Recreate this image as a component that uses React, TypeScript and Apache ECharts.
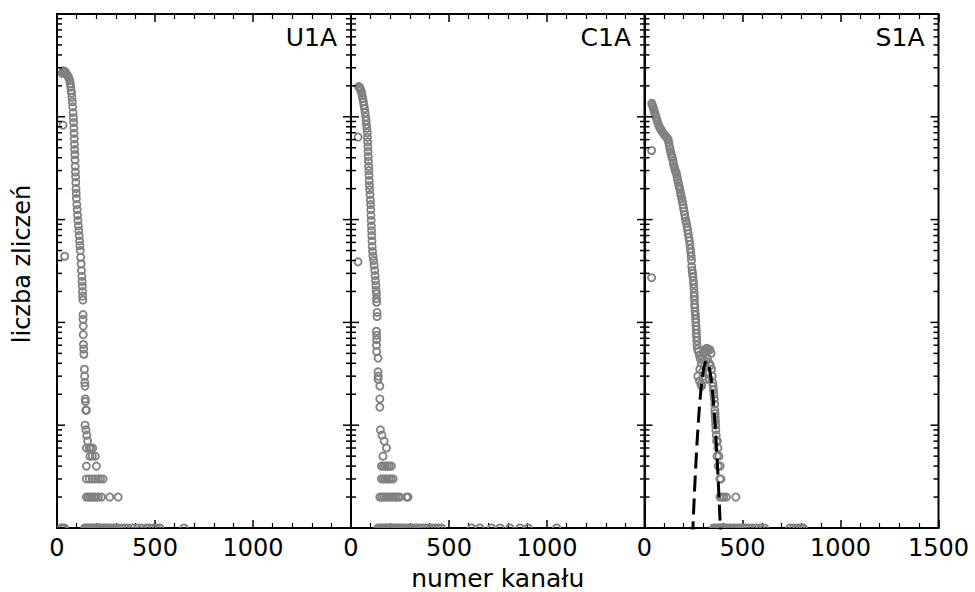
import React, { useEffect, useRef } from 'react';
import * as echarts from 'echarts';

const panelNames = ['U1A', 'C1A', 'S1A'];
const xTickValues = [0, 500, 1000, 1500];
const yMajorTicks = [1, 10, 100, 1000, 10000, 100000];
const yMinorTicks = [
  2, 3, 4, 5, 6, 7, 8, 9,
  20, 30, 40, 50, 60, 70, 80, 90,
  200, 300, 400, 500, 600, 700, 800, 900,
  2000, 3000, 4000, 5000, 6000, 7000, 8000, 9000,
  20000, 30000, 40000, 50000, 60000, 70000, 80000, 90000,
];
const xAxisName = 'numer kanału';
const yAxisName = 'liczba zliczeń';

// [channel, counts]
const u1aCounts = [
  [31, 8300], [39, 440],
  [27, 26500], [30, 27500], [33, 28000], [36, 27500], [39, 27000], [42, 27500], [45, 26500], [48, 26000],
  [51, 25500], [55, 25000], [58, 24500], [62, 23500], [65, 22500], [68, 21000], [70, 19500], [72, 18000],
  [74, 17000], [76, 15500], [78, 14000], [80, 12500], [82, 11000], [84, 9800], [85, 8800], [86, 7800],
  [87, 6900], [88, 6100], [89, 5400], [90, 4800], [91, 4300], [92, 3800], [93, 3300], [94, 2900],
  [95, 2600], [96, 2300], [97, 2000], [98, 1800], [99, 1600], [101, 1400], [103, 1250], [105, 1100],
  [107, 980], [109, 870], [111, 780], [113, 700], [115, 620], [117, 560], [119, 500], [121, 430],
  [123, 370], [125, 320], [127, 280], [128, 250], [129, 225], [130, 200], [131, 180], [132, 165],
  [133, 119], [133, 107], [134, 92], [134, 76], [135, 61], [136, 55], [137, 49], [140, 35],
  [141, 30], [142, 26], [143, 24], [144, 18], [145, 17], [147, 14], [150, 14], [143, 10],
  [148, 9], [152, 8], [156, 7], [150, 6], [165, 6], [172, 6], [182, 6], [168, 5], [180, 5], [195, 5],
  [150, 4], [201, 4],
  [150, 3], [165, 3], [180, 3], [195, 3], [210, 3], [222, 3], [235, 3],
  [150, 2], [160, 2], [170, 2], [180, 2], [190, 2], [200, 2], [212, 2], [227, 2], [269, 2], [312, 2],
  [22, 1], [30, 1], [38, 1], [141, 1], [148, 1], [155, 1], [162, 1], [170, 1], [178, 1], [186, 1],
  [194, 1], [202, 1], [210, 1], [219, 1], [228, 1], [237, 1], [246, 1], [256, 1], [266, 1], [277, 1],
  [289, 1], [302, 1], [316, 1], [330, 1], [345, 1], [362, 1], [385, 1], [410, 1], [432, 1], [455, 1],
  [472, 1], [490, 1], [508, 1], [524, 1], [648, 1],
];

const c1aCounts = [
  [36, 6350], [36, 388],
  [39, 19700], [42, 19500], [45, 19000], [48, 18500], [51, 18000], [54, 17000], [57, 16000], [60, 15000],
  [63, 14000], [66, 13000], [69, 12000], [72, 11000], [75, 10000], [77, 9200], [79, 8400], [81, 7700],
  [83, 7000], [84, 6300], [85, 5700], [86, 5100], [87, 4600], [88, 4100], [89, 3700], [90, 3300],
  [91, 3000], [92, 2700], [93, 2400], [94, 2150], [95, 1950], [97, 1750], [99, 1550], [100, 1400],
  [101, 1250], [102, 1100], [103, 980], [104, 870], [105, 780], [106, 700], [107, 620], [108, 550],
  [110, 490], [112, 440], [115, 400], [118, 360], [121, 320], [123, 285], [125, 255], [127, 230],
  [128, 205], [130, 190], [130, 170], [131, 157], [133, 125], [133, 114], [130, 82], [131, 75],
  [131, 68], [130, 60], [131, 52], [138, 45], [138, 33], [139, 30], [138, 28], [147, 24], [147, 18],
  [147, 15], [150, 9], [158, 8], [169, 7], [181, 6], [163, 5],
  [155, 4], [165, 4], [175, 4], [185, 4], [195, 4], [206, 4],
  [155, 3], [165, 3], [175, 3], [185, 3], [195, 3], [205, 3], [215, 3],
  [147, 2], [157, 2], [167, 2], [177, 2], [187, 2], [197, 2], [207, 2], [217, 2], [228, 2], [239, 2],
  [249, 2], [283, 2], [291, 2],
  [138, 1], [147, 1], [156, 1], [165, 1], [174, 1], [183, 1], [192, 1], [201, 1], [210, 1], [220, 1],
  [230, 1], [240, 1], [250, 1], [261, 1], [272, 1], [283, 1], [295, 1], [307, 1], [320, 1], [333, 1],
  [347, 1], [362, 1], [378, 1], [395, 1], [412, 1], [430, 1], [447, 1], [462, 1],
  [615, 1], [657, 1], [717, 1], [760, 1], [810, 1], [862, 1], [904, 1], [1049, 1],
];

const s1aCounts = [
  [36, 4700], [36, 272],
  [37, 13500], [40, 13000], [43, 12500], [46, 12000], [49, 11500], [52, 11000], [55, 10500], [58, 10000],
  [62, 9500], [66, 9000], [70, 8500], [75, 8000], [80, 7700], [86, 7400], [92, 7100], [98, 6800],
  [104, 6600], [110, 6400], [116, 6200], [121, 6000], [124, 5600], [127, 5200], [130, 4900], [133, 4600],
  [136, 4350], [139, 4150], [142, 4000], [145, 3750], [148, 3500], [151, 3300], [154, 3150], [157, 3000],
  [160, 2900], [163, 2800], [166, 2600], [169, 2450], [172, 2300], [175, 2150], [178, 2050], [181, 1950],
  [184, 1800], [187, 1700], [190, 1600], [193, 1500], [196, 1400], [199, 1300], [202, 1200], [205, 1120],
  [208, 1040], [211, 970], [214, 920], [217, 850], [220, 790], [223, 730], [226, 670], [229, 620],
  [232, 570], [234, 520], [236, 480], [238, 440], [240, 400], [241, 350], [243, 320], [245, 300],
  [247, 280], [249, 255], [251, 235], [252, 215], [253, 195], [254, 180], [255, 165], [256, 150],
  [257, 140], [258, 128], [260, 118], [261, 108], [262, 100], [263, 92], [264, 85], [265, 78],
  [266, 72], [267, 66], [268, 60], [270, 55],
  [275, 52], [280, 48], [285, 44], [290, 40], [295, 45], [300, 50], [305, 53], [310, 55], [318, 56],
  [326, 55], [334, 54], [340, 50], [272, 30], [280, 27], [288, 25], [292, 24], [282, 35], [296, 33],
  [306, 38], [315, 42], [322, 45], [330, 40], [336, 38], [342, 35], [345, 30], [348, 26], [300, 30],
  [310, 28], [320, 32], [330, 28],
  [350, 24], [352, 22], [354, 20], [356, 18], [358, 16], [359, 14], [360, 13], [361, 12], [362, 11],
  [363, 10], [364, 9], [366, 8], [368, 7], [372, 7], [375, 6], [370, 5], [380, 5], [376, 4], [386, 4],
  [385, 3], [390, 3], [385, 2], [395, 2], [405, 2], [418, 2], [466, 2],
  [352, 1], [361, 1], [370, 1], [380, 1], [390, 1], [400, 1], [411, 1], [422, 1], [434, 1], [446, 1],
  [459, 1], [472, 1], [486, 1], [500, 1], [515, 1], [532, 1], [550, 1], [570, 1], [592, 1], [612, 1],
  [742, 1], [760, 1], [782, 1], [797, 1], [810, 1],
];

// dashed fit curve
const s1aFit = [
  [245, 0.81], [250, 1.37], [255, 2.24], [260, 3.52], [265, 5.34], [270, 7.79], [275, 10.9], [280, 14.8],
  [285, 19.2], [290, 24.1], [295, 29.0], [300, 33.7], [305, 37.6], [310, 40.5], [317, 42], [325, 40.0],
  [330, 36.9], [335, 32.8], [340, 28.1], [345, 23.1], [350, 18.3], [355, 14.0], [360, 10.3], [365, 7.25],
  [370, 4.93], [375, 3.23], [380, 2.03], [385, 1.24], [390, 0.72],
];

const panelData = [u1aCounts, c1aCounts, s1aCounts];

const FONT = 'DejaVu Sans';
const gridLefts = [57, 351, 644.5];
const gridWidth = 294;
const gridTop = 14;
const gridHeight = 514;

export default function App() {
  const ref = useRef<HTMLDivElement>(null);
  useEffect(() => {
    if (!ref.current) return;
    const chart = echarts.init(ref.current, null, { renderer: 'svg' });

    const grids = gridLefts.map((l) => ({
      left: l, top: gridTop, width: gridWidth, height: gridHeight,
      show: true, borderColor: '#000', borderWidth: 2, backgroundColor: 'transparent',
    }));

    const xAxes: any[] = [];
    const yAxes: any[] = [];
    gridLefts.forEach((_, g) => {
      const common = {
        type: 'value', gridIndex: g, min: xTickValues[0], max: xTickValues[xTickValues.length - 1], interval: 500,
        splitLine: { show: false },
        axisLine: { show: false },
        axisTick: { show: true, inside: true, length: 8, lineStyle: { color: '#000', width: 1.5 } },
        minorTick: { show: true, splitNumber: 5, length: 5, lineStyle: { color: '#000', width: 1.2 } },
      };
      xAxes.push({
        ...common, position: 'bottom',
        axisLabel: {
          show: true, fontSize: 24, color: '#000', fontFamily: FONT, margin: 8,
          formatter: (v: number) => (g < 2 && v === 1500 ? '' : String(v)),
        },
      });
      xAxes.push({ ...common, position: 'top', axisLabel: { show: false } });
      yAxes.push({
        type: 'log', logBase: 10, gridIndex: g, min: yMajorTicks[0], max: yMajorTicks[yMajorTicks.length - 1],
        show: false,
      });
    });

    const tickData = yMajorTicks.map((v) => [v, 1]).concat(yMinorTicks.map((v) => [v, 0]));

    const series: any[] = [];
    panelData.forEach((d, g) => {
      series.push({
        type: 'custom', xAxisIndex: g * 2, yAxisIndex: g, data: tickData, encode: { x: 1, y: 0 }, clip: false, z: 5,
        silent: true,
        renderItem: (params: any, api: any) => {
          const cs = params.coordSys;
          const y = api.coord([0, api.value(0)])[1];
          const len = api.value(1) ? 8 : 5;
          const st = { stroke: '#000', lineWidth: 1.5 };
          return {
            type: 'group',
            children: [
              { type: 'line', shape: { x1: cs.x, y1: y, x2: cs.x + len, y2: y }, style: st },
              { type: 'line', shape: { x1: cs.x + cs.width, y1: y, x2: cs.x + cs.width - len, y2: y }, style: st },
            ],
          };
        },
      });
      series.push({
        type: 'custom', xAxisIndex: g * 2, yAxisIndex: g, data: d, encode: { x: 0, y: 1 }, clip: true, z: 3,
        silent: true,
        renderItem: (params: any, api: any) => {
          const p = api.coord([api.value(0), api.value(1)]);
          return {
            type: 'circle',
            shape: { cx: p[0], cy: p[1], r: 3.6 },
            style: { fill: 'none', stroke: '#808080', lineWidth: 1.8 },
          };
        },
      });
    });
    series.push({
      type: 'line', xAxisIndex: 4, yAxisIndex: 2, data: s1aFit, showSymbol: false, symbol: 'none', clip: true, z: 4,
      lineStyle: { color: '#000', width: 3, type: [16, 7] }, silent: true,
    });

    const graphics: any[] = panelNames.map((name, g) => ({
      type: 'text', x: gridLefts[g] + gridWidth - 14, y: 37,
      style: { text: name, font: `25px "${FONT}"`, fill: '#000', textAlign: 'right', textVerticalAlign: 'middle' },
      z: 10,
    }));
    graphics.push({
      type: 'text', x: gridLefts[0] + (gridLefts[2] + gridWidth - gridLefts[0]) / 2, y: 578,
      style: { text: xAxisName, font: `25px "${FONT}"`, fill: '#000', textAlign: 'center', textVerticalAlign: 'middle' },
    });
    graphics.push({
      type: 'text', x: 22, y: 264, rotation: Math.PI / 2,
      style: { text: yAxisName, font: `24px "${FONT}"`, fill: '#000', textAlign: 'center', textVerticalAlign: 'middle' },
    });

    chart.setOption({
      animation: false,
      backgroundColor: '#fff',
      textStyle: { fontFamily: FONT },
      grid: grids,
      xAxis: xAxes,
      yAxis: yAxes,
      series,
      graphic: graphics,
    });
    return () => chart.dispose();
  }, []);
  return <div ref={ref} style={{ position: 'fixed', left: 0, top: 0, width: 975, height: 592 }} />;
}
